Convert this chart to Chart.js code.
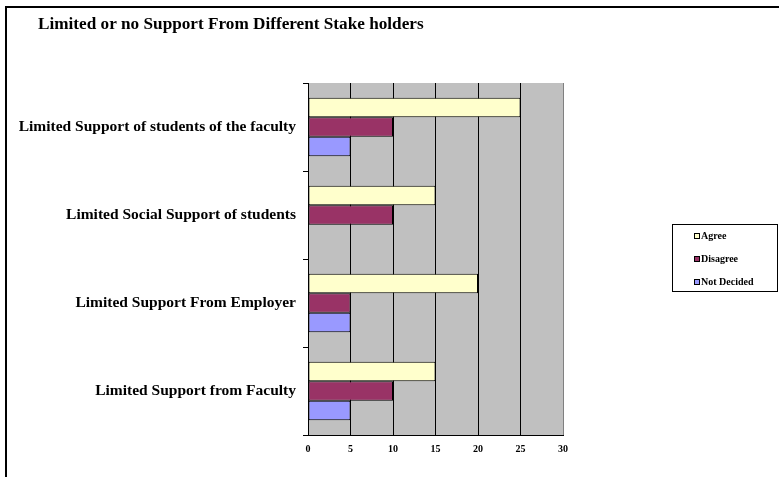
<!DOCTYPE html>
<html>
<head>
<meta charset="utf-8">
<script src="https://cdn.jsdelivr.net/npm/chart.js@4"></script>
<style>
    html, body { margin: 0; padding: 0; background: #fff; }
    #wrap { width: 779px; height: 477px; position: relative; }
</style>
</head>
<body>
<div id="wrap"><canvas id="stakeChart"></canvas></div>
<script>
// Chart data
const categories = [
    'Limited Support of students of the faculty',
    'Limited Social Support of students',
    'Limited Support From Employer',
    'Limited Support from Faculty'
];
const agree = [25, 15, 20, 15];
const disagree = [10, 10, 5, 10];
const notDecided = [5, 0, 5, 5];
const xTicks = [0, 5, 10, 15, 20, 25, 30];
const chartTitle = 'Limited or no Support From Different Stake holders';

const serif = '"Liberation Serif", "Times New Roman", serif';

// Grey plot background + outer frame + title
const backdrop = {
    id: 'backdrop',
    beforeDraw(chart) {
        const { ctx, chartArea: a } = chart;
        ctx.save();
        ctx.fillStyle = '#c0c0c0';
        ctx.fillRect(a.left, a.top, a.right - a.left, a.bottom - a.top);
        ctx.strokeStyle = '#000';
        ctx.lineWidth = 2;
        ctx.beginPath();
        ctx.moveTo(6, 477);
        ctx.lineTo(6, 7);
        ctx.lineTo(779, 7);
        ctx.stroke();
        ctx.fillStyle = '#000';
        ctx.font = 'bold 17.2px ' + serif;
        ctx.textBaseline = 'middle';
        ctx.fillText(chartTitle, 38, 25);
        ctx.restore();
    }
};

// Boxed legend on the right
const boxLegend = {
    id: 'boxLegend',
    afterDraw(chart) {
        const ctx = chart.ctx;
        ctx.save();
        ctx.fillStyle = '#fff';
        ctx.fillRect(672, 224, 105, 67);
        ctx.strokeStyle = '#000';
        ctx.lineWidth = 1;
        ctx.strokeRect(672.5, 224.5, 105, 67);
        ctx.font = 'bold 10px ' + serif;
        ctx.textBaseline = 'middle';
        chart.data.datasets.forEach((ds, i) => {
            const y = 236 + i * 23;
            ctx.fillStyle = ds.backgroundColor;
            ctx.fillRect(694, y - 3, 6, 6);
            ctx.strokeStyle = '#000';
            ctx.strokeRect(694.5, y - 2.5, 5, 5);
            ctx.fillStyle = '#000';
            ctx.fillText(ds.label, 701, y);
        });
        ctx.restore();
    }
};

const ctx = document.getElementById('stakeChart').getContext('2d');
const stakeChart = new Chart(ctx, {
    type: 'bar',
    data: {
        labels: categories,
        datasets: [{
            label: 'Agree',
            data: agree,
            backgroundColor: '#ffffcc'
        }, {
            label: 'Disagree',
            data: disagree,
            backgroundColor: '#993366'
        }, {
            label: 'Not Decided',
            data: notDecided,
            backgroundColor: '#9999ff'
        }]
    },
    options: {
        indexAxis: 'y',
        responsive: true,
        maintainAspectRatio: false,
        animation: false,
        layout: {
            padding: { left: 0, right: 216, top: 83, bottom: 12 }
        },
        datasets: {
            bar: {
                borderColor: '#000',
                borderWidth: c => (c.raw === 0 ? 0 : 1),
                borderSkipped: false,
                categoryPercentage: 0.665,
                barPercentage: 1
            }
        },
        scales: {
            x: {
                min: 0,
                max: 30,
                afterBuildTicks: axis => {
                    axis.ticks = xTicks.map(v => ({ value: v }));
                },
                afterFit: axis => { axis.height = 30; },
                grid: {
                    color: c => (c.tick && c.tick.value === 30 ? '#808080' : '#000'),
                    lineWidth: 1,
                    drawTicks: false
                },
                border: { display: true, color: '#000', width: 1 },
                ticks: {
                    padding: 8,
                    color: '#000',
                    font: { family: serif, size: 10, weight: 'bold' }
                }
            },
            y: {
                afterFit: axis => { axis.width = 308; },
                grid: {
                    drawOnChartArea: false,
                    drawTicks: true,
                    tickLength: 5,
                    color: '#000'
                },
                border: { display: true, color: '#000', width: 1 },
                ticks: {
                    padding: 7,
                    color: '#000',
                    font: { family: serif, size: 15.5, weight: 'bold' }
                }
            }
        },
        plugins: {
            legend: { display: false },
            tooltip: { enabled: false },
            title: { display: false }
        }
    },
    plugins: [backdrop, boxLegend]
});
</script>
</body>
</html>
